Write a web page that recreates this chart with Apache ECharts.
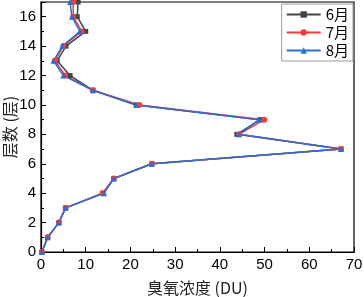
<!DOCTYPE html>
<html>
<head>
<meta charset="utf-8">
<script src="https://cdn.jsdelivr.net/npm/echarts@6/dist/echarts.min.js"></script>
<style>
  html, body { margin: 0; padding: 0; background: #fff; }
  #chart { width: 364px; height: 297px; }
</style>
</head>
<body>
<div id="chart"></div>
<script>
// 层数
const levels = [0, 1, 2, 3, 4, 5, 6, 7, 8, 9, 10, 11, 12, 13, 14, 15, 16, 17];
// 臭氧浓度 (DU)
const jun = [0.2, 1.5, 4.0, 5.5, 13.8, 16.3, 24.8, 67.1, 43.8, 49.0, 21.3, 11.6, 6.5, 3.6, 5.6, 10.0, 8.1, 8.3];
const jul = [0.2, 1.5, 4.0, 5.5, 13.8, 16.3, 24.8, 67.1, 44.3, 49.9, 22.0, 11.6, 5.4, 3.1, 5.0, 9.1, 7.2, 7.2];
const aug = [0.2, 1.5, 4.0, 5.5, 14.1, 16.3, 24.8, 67.1, 44.3, 48.8, 21.3, 11.6, 5.0, 2.8, 4.8, 8.7, 6.9, 6.5];

const pairs = (vals) => vals.map((v, i) => [v, levels[i]]);

let myChart = echarts.init(document.getElementById("chart"));
const font = "Liberation Sans, Arial, sans-serif";
let option = {
  animation: false,
  textStyle: { fontFamily: font },
  grid: {
    left: 41,
    right: 10,
    top: 2,
    bottom: 45,
    outerBoundsMode: "none",
    containLabel: false,
    show: true,
    borderColor: "#000",
    borderWidth: 1.2,
  },
  legend: {
    right: 11,
    top: 4,
    orient: "vertical",
    itemGap: 3,
    itemWidth: 34,
    itemHeight: 8,
    padding: [3, 4, 3, 4],
    borderColor: "#999",
    borderWidth: 1,
    backgroundColor: "#fff",
    textStyle: { fontSize: 15, color: "#000", fontFamily: "Noto Sans CJK SC" },
    data: ["6月", "7月", "8月"],
  },
  xAxis: {
    type: "value",
    min: 0,
    max: 70,
    interval: 10,
    name: "臭氧浓度 (DU)",
    nameLocation: "middle",
    nameGap: 28,
    nameMoveOverlap: false,
    nameTextStyle: { fontSize: 16, color: "#222", fontFamily: "Noto Sans CJK SC" },
    axisLine: { lineStyle: { color: "#000", width: 1.2 } },
    axisTick: { inside: true, length: 5, lineStyle: { color: "#000" } },
    minorTick: { show: true, splitNumber: 2, length: 3, lineStyle: { color: "#000" } },
    axisLabel: { fontSize: 15, color: "#000", margin: 5 },
    splitLine: { show: false },
  },
  yAxis: {
    type: "value",
    min: 0,
    max: 17,
    interval: 2,
    name: "层数 (层)",
    nameLocation: "middle",
    nameGap: 23,
    nameMoveOverlap: false,
    nameTextStyle: { fontSize: 16, color: "#222", fontFamily: "Noto Sans CJK SC" },
    axisLine: { lineStyle: { color: "#000", width: 1.2 } },
    axisTick: { inside: true, length: 5, lineStyle: { color: "#000" } },
    minorTick: { show: true, splitNumber: 2, length: 3, lineStyle: { color: "#000" } },
    axisLabel: {
      fontSize: 15,
      color: "#000",
      margin: 5,
      showMaxLabel: false,
    },
    splitLine: { show: false },
  },
  series: [
    {
      name: "6月",
      type: "line",
      data: pairs(jun),
      color: "#444",
      symbol: "rect",
      symbolSize: 5,
      lineStyle: { width: 1.5 },
      clip: true,
    },
    {
      name: "7月",
      type: "line",
      data: pairs(jul),
      color: "#f53b3b",
      symbol: "circle",
      symbolSize: 6,
      lineStyle: { width: 1.5 },
      clip: true,
    },
    {
      name: "8月",
      type: "line",
      data: pairs(aug),
      color: "#2a6fd6",
      symbol: "triangle",
      symbolSize: 6,
      lineStyle: { width: 1.5 },
      clip: true,
    },
  ],
};
myChart.setOption(option);
</script>
</body>
</html>
